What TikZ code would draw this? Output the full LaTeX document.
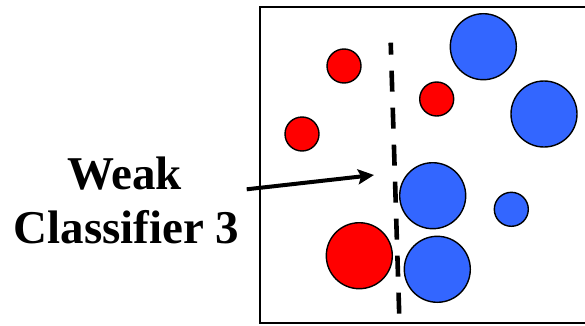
\documentclass[tikz,border=0pt]{standalone}
\usepackage{fontspec}
\setmainfont{Liberation Serif}
\usetikzlibrary{arrows.meta}
\definecolor{ptred}{RGB}{255,0,0}
\definecolor{ptblue}{RGB}{51,102,255}
\tikzset{
  pt/.style={circle, draw=black, line width=1.4pt, inner sep=0pt, minimum size=#1},
  small/.style={pt=34pt},
  big/.style={pt=66pt},
  redpt/.style={fill=ptred},
  bluept/.style={fill=ptblue},
  label text/.style={font=\bfseries\fontsize{47}{54}\selectfont, anchor=base},
  boundary/.style={line width=4.6pt, dash pattern=on 21pt off 16pt, dash phase=9pt},
  pointer/.style={line width=4pt, -{Stealth[length=16pt,width=15pt,inset=3pt]}}
}
\begin{document}
\begin{tikzpicture}[x=1pt,y=1pt]
  \useasboundingbox (0,0) rectangle (585,325);
  % frame (the right side runs past the page edge)
  \draw[line width=2pt] (590,318) -- (260,318) -- (260,2) -- (590,2);

  % class one
  \node[small, redpt] (r1) at (344,259) {};
  \node[small, redpt] (r2) at (436.7,226) {};
  \node[small, redpt] (r3) at (302,191) {};
  \node[big,   redpt] (r4) at (359.3,69.3) {};

  % class two
  \node[big,   bluept] (b1) at (483.3,278.3) {};
  \node[big,   bluept] (b2) at (544,211) {};
  \node[big,   bluept] (b3) at (432.7,129.3) {};
  \node[small, bluept] (b4) at (511.3,115.7) {};
  \node[big,   bluept] (b5) at (437.3,55.7) {};

  % decision boundary
  \coordinate (dtop) at (390.7,282.3);
  \coordinate (dbot) at (399.3,8);
  \draw[boundary] (dtop) -- (dbot);

  % caption and pointer
  \node[label text] (w) at (124.5,136) {Weak};
  \node[label text] (c) at (126.5,82) {Classifier 3};
  \coordinate (from) at (246.7,135.7);
  \coordinate (to) at (374,150);
  \draw[pointer] (from) -- (to);
\end{tikzpicture}
\end{document}
